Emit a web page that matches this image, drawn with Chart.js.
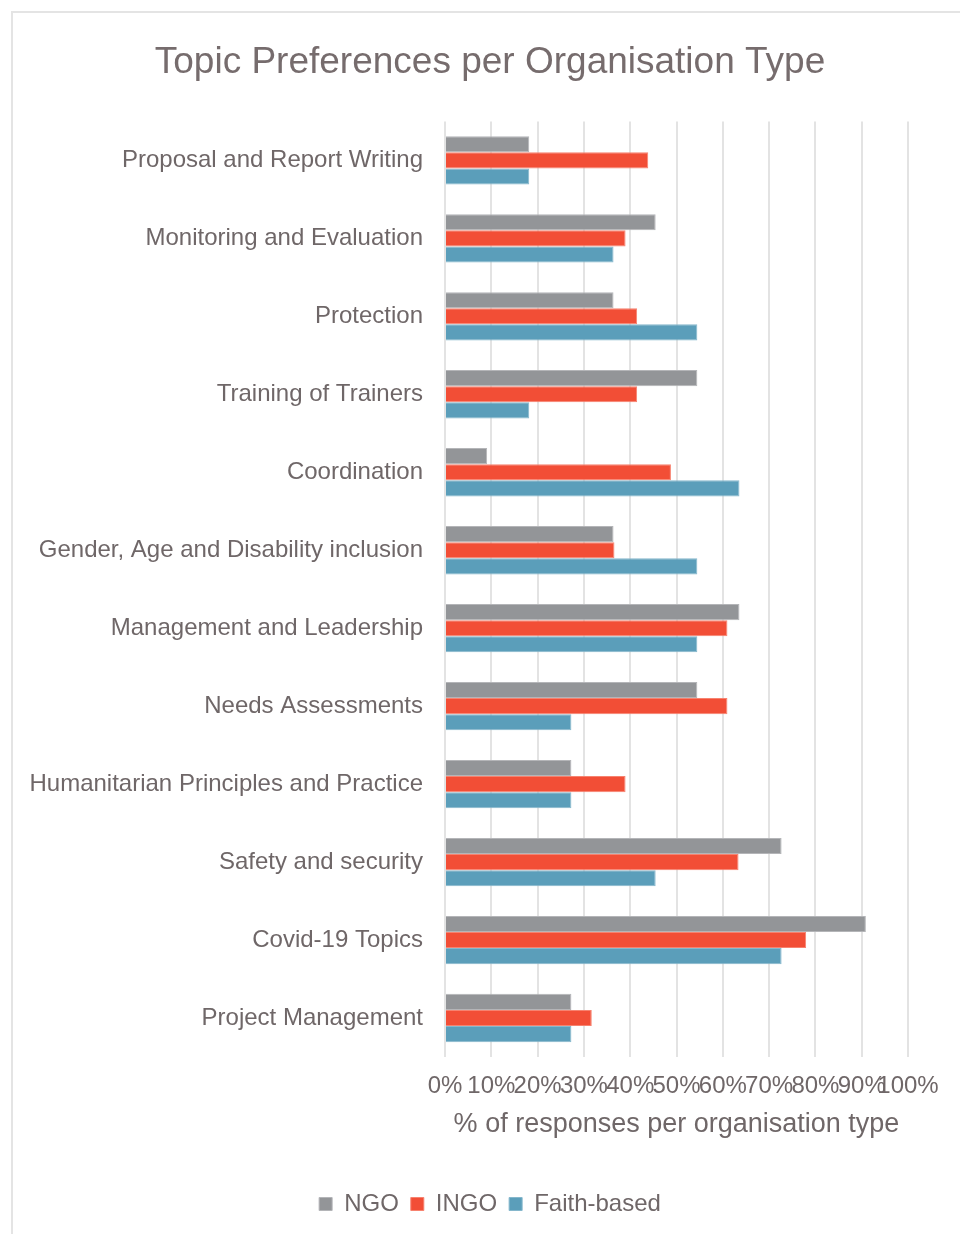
<!DOCTYPE html>
<html>
<head>
<meta charset="utf-8">
<script src="https://cdn.jsdelivr.net/npm/chart.js@4/dist/chart.umd.min.js"></script>
<style>
  body { margin: 0; background: #fff; }
  #frame {
    position: absolute; left: 11px; top: 11px; width: 960px; height: 1240px;
    border-left: 2px solid #e4e4e4; border-top: 2px solid #e4e4e4;
  }
  #wrap { position: absolute; left: 0; top: 0; width: 960px; height: 1234px; }
</style>
</head>
<body>
<div id="frame"></div>
<div id="wrap"><canvas id="main" width="960" height="1234"></canvas></div>
<script>
const topics = [
    "Proposal and Report Writing",
    "Monitoring and Evaluation",
    "Protection",
    "Training of Trainers",
    "Coordination",
    "Gender, Age and Disability inclusion",
    "Management and Leadership",
    "Needs Assessments",
    "Humanitarian Principles and Practice",
    "Safety and security",
    "Covid-19 Topics",
    "Project Management"
];
const ngo = [18.2, 45.5, 36.4, 54.5, 9.1, 36.4, 63.6, 54.5, 27.3, 72.7, 90.9, 27.3];
const ingo = [43.9, 39.0, 41.5, 41.5, 48.8, 36.6, 61.0, 61.0, 39.0, 63.4, 78.0, 31.7];
const faith = [18.2, 36.4, 54.5, 18.2, 63.6, 54.5, 54.5, 27.3, 27.3, 45.5, 72.7, 27.3];
const xTicks = [0, 10, 20, 30, 40, 50, 60, 70, 80, 90, 100];

const textColor = "#6f6768";
const fontName = "'Liberation Sans', Arial, sans-serif";

function series(label, data, fill, edge) {
    return {
        label: label,
        data: data,
        backgroundColor: fill,
        borderColor: edge,
        borderWidth: 1,
        barPercentage: 1.0,
        categoryPercentage: 0.62
    };
}

// long category names reach left of the y axis box, so widen its label clip
const unclipLabels = {
    id: "unclipLabels",
    beforeDraw: function (chart) {
        chart.scales.y.left = 0;
    }
};

const myChart = new Chart(document.getElementById('main'), {
    type: "bar",
    data: {
        labels: topics,
        datasets: [
            series("NGO", ngo, "#939598", "#b4b5b8"),
            series("INGO", ingo, "#f24e36", "#f7826f"),
            series("Faith-based", faith, "#5b9eba", "#85b7cc")
        ]
    },
    plugins: [unclipLabels],
    options: {
        indexAxis: "y",
        responsive: false,
        animation: false,
        layout: { padding: { top: 30, left: 72, right: 52, bottom: 8 } },
        plugins: {
            title: {
                display: true,
                text: "Topic Preferences per Organisation Type",
                color: "#766c6d",
                font: { family: fontName, size: 37, weight: "normal" },
                padding: { top: 11, bottom: 36 }
            },
            legend: {
                position: "bottom",
                labels: {
                    color: textColor,
                    font: { family: fontName, size: 24 },
                    boxWidth: 13,
                    boxHeight: 13,
                    padding: 12
                }
            },
            tooltip: { enabled: false }
        },
        scales: {
            x: {
                min: 0,
                max: 100,
                afterBuildTicks: function (scale) {
                    scale.ticks = xTicks.map(v => ({ value: v }));
                },
                afterFit: function (scale) { scale.height = 123; },
                ticks: {
                    color: textColor,
                    font: { family: fontName, size: 24 },
                    autoSkip: false,
                    maxRotation: 0,
                    padding: 15,
                    callback: v => v + "%"
                },
                grid: { color: "#e3e3e3", lineWidth: 2, drawTicks: false },
                border: { display: false },
                title: {
                    display: true,
                    text: "% of responses per organisation type",
                    color: textColor,
                    font: { family: fontName, size: 27 },
                    padding: { top: 0, bottom: 39 }
                }
            },
            y: {
                afterFit: function (scale) { scale.width = 373; },
                ticks: {
                    color: textColor,
                    font: { family: fontName, size: 24 },
                    padding: 14
                },
                grid: { display: false },
                border: { display: false }
            }
        }
    }
});
console.log("Loaded!");
</script>
</body>
</html>
